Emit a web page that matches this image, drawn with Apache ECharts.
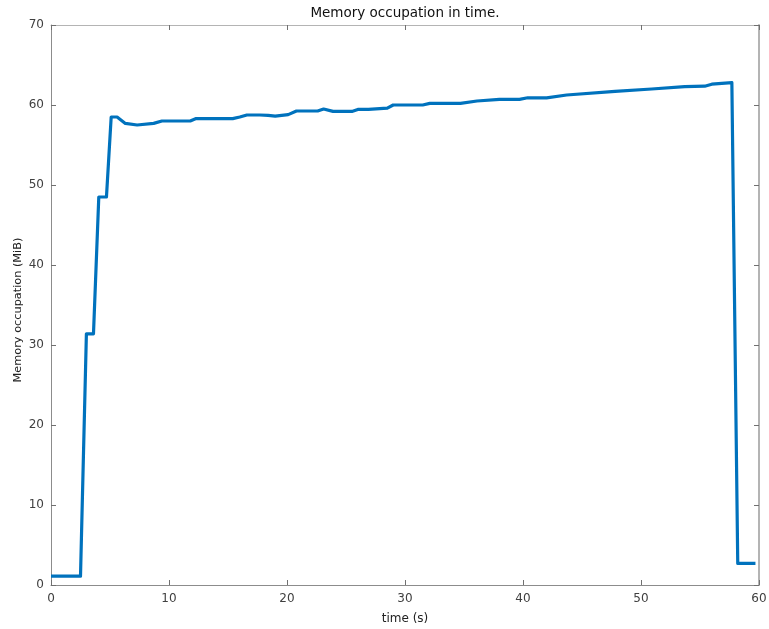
<!DOCTYPE html>
<html>
<head>
<meta charset="utf-8">
<title>Memory occupation in time.</title>
<script src="https://cdn.jsdelivr.net/npm/echarts@6/dist/echarts.min.js"></script>
<style>
  html, body { margin: 0; padding: 0; background: #fff; }
  #chart { width: 769px; height: 629px; }
</style>
</head>
<body>
<div id="chart"></div>
<script>
// Sampled run: time (s) and memory in use (MiB)
const timeSec = [0, 2.5, 3.0, 3.6, 4.05, 4.7, 5.1, 5.6, 6.3, 7.3, 8.7, 9.4, 11.8, 12.3, 15.4, 16.0, 16.6, 17.7, 18.4, 19.0, 20.1, 20.8, 22.6, 23.1, 23.9, 25.5, 26.0, 26.9, 27.0, 28.5, 29.0, 31.5, 32.1, 34.7, 36.1, 38.0, 39.7, 40.4, 42.0, 43.7, 47.8, 50.9, 53.7, 55.4, 56.0, 57.7, 58.2, 59.7];
const memoryMiB = [1.1, 1.1, 31.4, 31.4, 48.5, 48.5, 58.5, 58.5, 57.7, 57.5, 57.7, 58.0, 58.0, 58.3, 58.3, 58.5, 58.75, 58.75, 58.7, 58.6, 58.8, 59.25, 59.25, 59.5, 59.2, 59.2, 59.45, 59.45, 59.6, 59.6, 60.0, 60.0, 60.2, 60.2, 60.5, 60.7, 60.7, 60.9, 60.9, 61.25, 61.7, 62.0, 62.3, 62.35, 62.6, 62.8, 2.7, 2.7];

const xTicks = [0, 10, 20, 30, 40, 50, 60];
const yTicks = [0, 10, 20, 30, 40, 50, 60, 70];

const points = timeSec.map((t, i) => [t, memoryMiB[i]]);

const FONT = 'DejaVu Sans';
const axisGray = '#8c8c8c';
const boxGray = '#b4b4b4';
const labelColor = '#404040';

const chart = echarts.init(document.getElementById('chart'), null, { renderer: 'canvas' });

function baseAxis(extra) {
  return Object.assign({
    type: 'value',
    splitLine: { show: false },
    axisLine: { show: true, onZero: false, lineStyle: { color: axisGray, width: 1 } },
    axisTick: { show: true, inside: true, length: 5, lineStyle: { color: '#707070', width: 1 } },
    axisLabel: { show: true, color: labelColor, fontFamily: FONT, fontSize: 12 }
  }, extra);
}

chart.setOption({
  animation: false,
  backgroundColor: '#ffffff',
  title: {
    text: 'Memory occupation in time.',
    left: 400,
    textAlign: 'center',
    top: 1,
    textStyle: { fontFamily: FONT, fontSize: 13.5, fontWeight: 'normal', color: '#111' }
  },
  // axis titles, placed as free text so the plot box keeps its exact size
  graphic: [{
    type: 'text',
    x: 18,
    y: 310,
    rotation: Math.PI / 2,
    style: {
      text: 'Memory occupation (MiB)',
      fontFamily: FONT,
      fontSize: 11.3,
      fill: '#222',
      align: 'center',
      verticalAlign: 'middle'
    }
  }, {
    type: 'text',
    x: 405,
    y: 619,
    style: {
      text: 'time (s)',
      fontFamily: FONT,
      fontSize: 12,
      fill: '#222',
      align: 'center',
      verticalAlign: 'middle'
    }
  }],
  grid: { left: 51, right: 10, top: 25, bottom: 44, containLabel: false, outerBoundsMode: 'none' },
  xAxis: [
    baseAxis({
      position: 'bottom',
      min: xTicks[0], max: xTicks[xTicks.length - 1], interval: 10,
      axisLabel: { color: labelColor, fontFamily: FONT, fontSize: 12, margin: 8 }
    }),
    baseAxis({
      position: 'top',
      min: xTicks[0], max: xTicks[xTicks.length - 1], interval: 10,
      axisLine: { show: true, onZero: false, lineStyle: { color: boxGray, width: 1 } },
      axisLabel: { show: false }
    })
  ],
  yAxis: [
    baseAxis({
      position: 'left',
      min: yTicks[0], max: yTicks[yTicks.length - 1], interval: 10,
      axisLabel: { color: labelColor, fontFamily: FONT, fontSize: 12, margin: 7 }
    }),
    baseAxis({
      position: 'right',
      min: yTicks[0], max: yTicks[yTicks.length - 1], interval: 10,
      axisLine: { show: true, onZero: false, lineStyle: { color: boxGray, width: 2 } },
      axisLabel: { show: false }
    })
  ],
  series: [{
    type: 'line',
    data: points,
    showSymbol: false,
    symbol: 'none',
    smooth: false,
    clip: true,
    lineStyle: { color: '#0072BD', width: 3.2, join: 'round' },
    itemStyle: { color: '#0072BD' }
  }]
});
</script>
</body>
</html>
